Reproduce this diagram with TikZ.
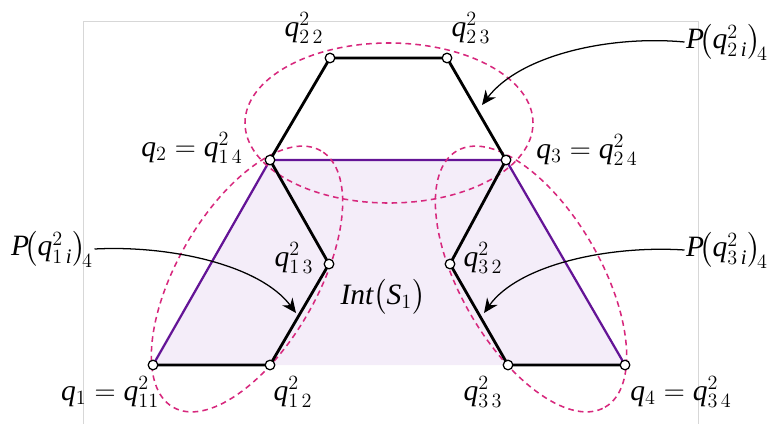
\documentclass[tikz,border=0pt]{standalone}
\usepackage{amsmath}
\usepackage{fontspec}
\setmainfont{Liberation Serif}
\DeclareSymbolFont{operators}{TU}{\rmdefault}{m}{n}
\DeclareSymbolFont{letters}{TU}{\rmdefault}{m}{it}
\usetikzlibrary{arrows.meta}

\definecolor{chainpurple}{RGB}{100,20,150}
\definecolor{hullpink}{RGB}{215,40,125}
\definecolor{intfill}{RGB}{244,237,249}
\definecolor{framegray}{RGB}{215,215,215}

\tikzset{
  joint/.style={circle,draw,fill=white,line width=0.9pt,inner sep=0pt,minimum size=2.4mm},
  link/.style={line width=2pt,line join=round},
  hull/.style={hullpink,line width=1.1pt,dash pattern=on 4pt off 3pt},
  lab/.style={font=\fontsize{21}{25}\selectfont,inner sep=1pt},
  pointer/.style={-{Stealth[length=3.6mm,width=3.2mm]},line width=0.9pt}
}

\begin{document}
\begin{tikzpicture}[x=0.25mm,y=-0.25mm]
\useasboundingbox (0,0) rectangle (772,423);
\draw[framegray,line width=0.6pt] (83,424) -- (83,21) -- (698,21) -- (698,424);

% joints of the three chains
\coordinate (q11) at (153,365);
\coordinate (q12) at (270,365);
\coordinate (q13) at (329,264);
\coordinate (q14) at (270,160);
\coordinate (q22) at (330,58);
\coordinate (q23) at (447,58);
\coordinate (q24) at (506,160);
\coordinate (q32) at (450,264);
\coordinate (q33) at (508,365);
\coordinate (q34) at (625,365);

% interior S_1
\fill[intfill] (q11) -- (q14) -- (q24) -- (q34) -- cycle;
\draw[chainpurple,line width=1.6pt,line join=round] (q11) -- (q14) -- (q24) -- (q34);

% hulls
\draw[hull] (389,123) ellipse [x radius=36mm, y radius=20mm];
\draw[hull] (247,279) circle [x radius=37mm, y radius=17.5mm, rotate=60];
\draw[hull] (531,279) circle [x radius=37mm, y radius=17.5mm, rotate=-60];

\draw[link] (q11) -- (q12) -- (q13) -- (q14);
\draw[link] (q14) -- (q22) -- (q23) -- (q24);
\draw[link] (q24) -- (q32) -- (q33) -- (q34);

\foreach \j in {q11,q12,q13,q14,q22,q23,q24,q32,q33,q34}
  \node[joint] (j\j) at (\j) {};

\node[lab] (l22) at (304,28) {$q^{2}_{2\,2}$};
\node[lab] (l23) at (471,28) {$q^{2}_{2\,3}$};
\node[lab] (l14) at (192,148) {$q_2=q^{2}_{1\,4}$};
\node[lab] (l24) at (587,150) {$q_3=q^{2}_{2\,4}$};
\node[lab] (l13) at (294,258) {$q^{2}_{1\,3}$};
\node[lab] (l32) at (483,258) {$q^{2}_{3\,2}$};
\node[lab] (l11) at (110,392) {$q_1=q^{2}_{11}$};
\node[lab] (l12) at (293,392) {$q^{2}_{1\,2}$};
\node[lab] (l33) at (483,392) {$q^{2}_{3\,3}$};
\node[lab] (l34) at (681,392) {$q_4=q^{2}_{3\,4}$};
\node[lab] (int) at (383,297) {$Int\bigl(S_1\bigr)$};

\node[lab] (p1) at (52,249) {$P\!\bigl(q^{2}_{1\,i}\bigr)_{\!4}$};
\node[lab] (p2) at (727,42) {$P\!\bigl(q^{2}_{2\,i}\bigr)_{\!4}$};
\node[lab] (p3) at (727,250) {$P\!\bigl(q^{2}_{3\,i}\bigr)_{\!4}$};

\coordinate (t1) at (296,313);
\coordinate (t2) at (482,105);
\coordinate (t3) at (484,313);
\draw[pointer] (p1.east) .. controls (170,245) and (260,265) .. (t1);
\draw[pointer] (p2.west) .. controls (610,35) and (520,55) .. (t2);
\draw[pointer] (p3.west) .. controls (608,245) and (518,265) .. (t3);
\end{tikzpicture}
\end{document}
